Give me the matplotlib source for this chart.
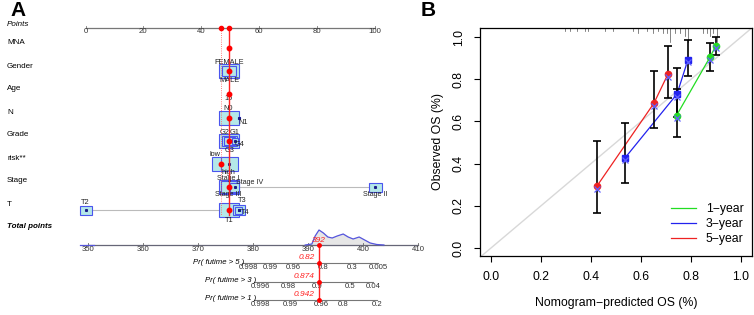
import matplotlib
matplotlib.use("Agg")
import matplotlib.pyplot as plt
from matplotlib.patches import Rectangle
import numpy as np

plt.rcParams['font.family'] = ['Liberation Sans', 'DejaVu Sans']

# ---------------- Panel A data (nomogram) ----------------
points_ticks = [0, 20, 40, 60, 80, 100]
var_names = ['MNA', 'Gender', 'Age', 'N', 'Grade', 'risk**', 'Stage', 'T']

gender_levels = ['FEMALE', 'MALE']
gender_pts = [49.6, 49.6]
age_levels = ['15']
age_pts = [49.6]
n_levels = ['N0', 'N1']
n_pts = [49.6, 52.9]
grade_levels = ['G1', 'G2', 'G3', 'G4']
grade_pts = [49.6, 49.6, 49.6, 51.8]
risk_levels = ['low', 'high']
risk_pts = [46.8, 49.6]
stage_levels = ['Stage I', 'Stage II', 'Stage III', 'Stage IV']
stage_pts = [49.6, 100.0, 49.6, 51.6]
t_levels = ['T1', 'T2', 'T3', 'T4']
t_pts = [49.6, 0.0, 53.0, 53.0]

patient_pts = [49.6, 49.6, 49.6, 49.6, 49.6, 46.8, 49.6, 49.6]
patient_total = 392
total_ticks = [350, 360, 370, 380, 390, 400, 410]

density_tp = [348.5, 351.0, 389.5, 390.7, 391.3, 392.0, 392.8, 393.6, 394.4, 395.3,
              396.4, 397.3, 398.2, 399.3, 400.3, 401.3, 402.5, 403.8]
density_h = [0, 0, 0, 1, 9, 15, 12, 8, 7, 9, 11, 8, 6, 8, 5, 2, 0.5, 0]

pr_titles = ['Pr( futime > 5 )', 'Pr( futime > 3 )', 'Pr( futime > 1 )']
pr_tick_labels = [['0.998', '0.99', '0.96', '0.8', '0.3', '0.005'],
                  ['0.996', '0.98', '0.9', '0.5', '0.04'],
                  ['0.998', '0.99', '0.96', '0.8', '0.2']]
pr_tick_tp = [[379.1, 383.1, 387.3, 392.7, 398.0, 402.7],
              [381.3, 386.4, 391.6, 397.6, 401.8],
              [381.3, 386.7, 392.4, 396.4, 402.5]]
pr_values = ['0.82', '0.874', '0.942']

# ---------------- Panel B data (calibration) ----------------
cal_labels = ['1\u2212year', '3\u2212year', '5\u2212year']
cal_colors = ['#22dd22', '#2222ee', '#ee2222']
pred_1y = [0.742, 0.876, 0.900]
obs_1y = [0.628, 0.905, 0.960]
lo_1y = [0.525, 0.840, 0.915]
hi_1y = [0.755, 0.972, 1.000]
pred_3y = [0.536, 0.744, 0.788]
obs_3y = [0.427, 0.730, 0.893]
lo_3y = [0.308, 0.620, 0.815]
hi_3y = [0.592, 0.853, 0.986]
pred_5y = [0.424, 0.652, 0.708]
obs_5y = [0.294, 0.687, 0.825]
lo_5y = [0.166, 0.569, 0.710]
hi_5y = [0.507, 0.839, 0.957]
rug_x = [0.296, 0.316, 0.343, 0.376, 0.389, 0.456, 0.489, 0.569, 0.589, 0.623,
         0.649, 0.669, 0.689, 0.703, 0.716, 0.736, 0.756, 0.776, 0.789, 0.849,
         0.863, 0.876, 0.889, 0.903]
rug_h = [1, 1, 1, 1, 1, 1, 1, 1, 2, 1, 2, 1, 2, 2, 5, 2, 2, 3, 5, 2, 2, 3, 2, 5]
axis_ticks = [0.0, 0.2, 0.4, 0.6, 0.8, 1.0]

# ---------------- figure ----------------
fig = plt.figure(figsize=(7.54, 3.15), dpi=100)
axA = fig.add_axes([0, 0, 1, 1])
axA.set_xlim(0, 754)
axA.set_ylim(315, 0)
axA.axis('off')

def px_pts(p):
    return 85.5 + 2.895 * p

def px_tp(tp):
    return 88 + 5.5 * (tp - 350)

FS = 5.8
TFS = 5.6
box_face = '#b4e8e8'
box_edge = '#4a55ee'

fig.text(10 / 754, 1 - 10 / 315, 'A', fontsize=15, fontweight='bold', va='center', ha='left')
fig.text(421 / 754, 1 - 10 / 315, 'B', fontsize=15, fontweight='bold', va='center', ha='left')

# Row labels
row_y = [43, 66, 89, 112, 135, 158, 181, 204]
axA.text(7, 24, 'Points', fontsize=FS, style='italic', va='center', ha='left')
for name, y in zip(var_names, row_y):
    axA.text(7, y, name, fontsize=FS, va='center', ha='left')
axA.text(7, 227, 'Total points', fontsize=FS, style='italic', fontweight='bold', va='center', ha='left')

# Points axis
axA.plot([px_pts(points_ticks[0]), px_pts(points_ticks[-1])], [27.5, 27.5], color='#777777', lw=0.9)
for t in points_ticks:
    axA.plot([px_pts(t)] * 2, [27.5, 25.5], color='#777777', lw=0.6)
    axA.text(px_pts(t), 31.5, str(t), fontsize=TFS, ha='center', va='center', color='#333333')

# red guide lines
axA.plot([px_pts(patient_pts[0])] * 2, [27.5, 215], color='#ff2222', lw=1.0, zorder=5)
axA.plot([px_pts(risk_pts[0])] * 2, [27.5, 215], color='#ff5555', lw=0.6, ls=':', zorder=5)
axA.plot([px_pts(patient_pts[0]), px_pts(risk_pts[0])], [27.5, 27.5], 'o', color='red', ms=3, zorder=6)

def draw_boxes(pts, levels, y, sizes, offs, line=False, fs=FS - 0.5):
    if line:
        axA.plot([px_pts(min(pts)), px_pts(max(pts))], [y, y], color='#bbbbbb', lw=0.8, zorder=1)
    for p, lev, (w, h), (dx, dy) in zip(pts, levels, sizes, offs):
        if w > 0:
            axA.add_patch(Rectangle((px_pts(p) - w / 2, y - h / 2), w, h, facecolor=box_face,
                                    edgecolor=box_edge, lw=0.8, zorder=2))
            axA.plot(px_pts(p), y, 's', color='#1a1a88', ms=1.2, zorder=3)
        axA.text(px_pts(p) + dx, y + dy, lev, fontsize=fs, ha='center', va='center',
                 color='#222222', zorder=4)

draw_boxes(gender_pts, gender_levels, 71, [(20, 14), (14, 10)], [(0, -8.5), (0, 10)])
draw_boxes(age_pts, age_levels, 94, [(0, 0)], [(-1, 5)])
draw_boxes(n_pts, n_levels, 118, [(20, 14), (2, 2)], [(-1, -10), (4, 4)])
draw_boxes(grade_pts, grade_levels, 141, [(20, 14), (15, 10), (11, 8), (6, 6)],
           [(5, -8.5), (-5, -9), (0, 10), (4, 4)])
draw_boxes(risk_pts, risk_levels, 164, [(18, 14), (17, 14)], [(-6, -9), (-1, 9)])
draw_boxes(stage_pts, stage_levels, 187, [(20, 14), (13, 9), (16, 12), (9, 9)],
           [(-1, -8.5), (0, 8), (-1, 8), (15, -5)], line=True, fs=FS - 0.7)
draw_boxes(t_pts, t_levels, 210, [(20, 14), (12, 9), (12, 10), (7, 7)],
           [(0, 11), (0, -8), (3, -9), (6, 3)], line=True)

# patient dots on rows
dot_y = [48, 71, 94, 118, 141, 164, 187, 210]
for p, y in zip(patient_pts, dot_y):
    axA.plot(px_pts(p), y, 'o', color='red', ms=3.2, zorder=6)

# Total points axis
axA.plot([px_tp(total_ticks[0]), px_tp(total_ticks[-1])], [245, 245], color='#666677', lw=0.9)
for t in total_ticks:
    axA.plot([px_tp(t)] * 2, [245, 243], color='#666666', lw=0.6)
    axA.text(px_tp(t), 249.5, str(t), fontsize=TFS, ha='center', va='center', color='#333333')
dx_ = [px_tp(v) for v in density_tp]
dy_ = [245 - h for h in density_h]
axA.fill_between(dx_[2:], dy_[2:], 245, color='#e6e6e6', zorder=1)
axA.plot(dx_[:2], dy_[:2], color='#5555dd', lw=0.9)
axA.plot(dx_[2:], dy_[2:], color='#5555dd', lw=0.9)

# probability axes
pr_y = [263, 281.5, 300]
xr = px_tp(patient_total)
for title, labs, tps, val, y in zip(pr_titles, pr_tick_labels, pr_tick_tp, pr_values, pr_y):
    axA.plot([px_tp(tps[0]) - 6, px_tp(tps[-1])], [y, y], color='#777777', lw=0.8)
    for lab, tp in zip(labs, tps):
        axA.text(px_tp(tp), y + 4.5, lab, fontsize=TFS, ha='center', va='center', color='#333333')
    axA.text(px_tp(tps[0]) - 4, y - 1, title, fontsize=FS - 0.2, style='italic', ha='right', va='center')
    axA.text(xr - 4, y - 5.5, val, fontsize=FS + 0.2, style='italic', color='#ff2222', ha='right', va='center')
    axA.plot(xr, y, 'o', color='red', ms=2.5, zorder=6)
axA.plot([xr, xr], [245, pr_y[-1]], color='#ff2222', lw=1.0, zorder=5)
axA.plot(xr, 245, 'o', color='red', ms=2.5, zorder=6)
axA.text(xr, 241, str(patient_total), fontsize=FS + 0.2, style='italic', color='#ff2222',
         ha='center', va='center', zorder=6)

# ---------------- Panel B ----------------
axB = fig.add_axes([480 / 754, 1 - 256 / 315, 272 / 754, 228 / 315])
axB.set_xlim(-0.044, 1.044)
axB.set_ylim(-0.038, 1.043)
axB.plot([-0.1, 1.1], [-0.1, 1.1], color='#d8d8d8', lw=1.0, zorder=1)

for pred, obs, lo, hi, col, lab, mk in [
        (pred_1y, obs_1y, lo_1y, hi_1y, cal_colors[0], cal_labels[0], 'o'),
        (pred_3y, obs_3y, lo_3y, hi_3y, cal_colors[1], cal_labels[1], 's'),
        (pred_5y, obs_5y, lo_5y, hi_5y, cal_colors[2], cal_labels[2], 'o')]:
    axB.errorbar(pred, obs, yerr=[np.array(obs) - np.array(lo), np.array(hi) - np.array(obs)],
                 fmt='none', ecolor='black', elinewidth=1.2, capsize=3, capthick=1.2, zorder=3)
    axB.plot(pred, obs, color=col, lw=0.9, label=lab, zorder=2)
    axB.plot(pred, obs, mk, color=col, ms=4.5, zorder=4)
    axB.plot(pred, np.array(obs) - 0.012, 'x', color='#6060ff', ms=4.5, mew=0.9, zorder=5)

trans = matplotlib.transforms.blended_transform_factory(axB.transData, axB.transAxes)
for x, h in zip(rug_x, rug_h):
    axB.plot([x, x], [1, 1 - 0.012 * h], color='#555555', lw=0.5, transform=trans)

axB.set_xticks(axis_ticks)
axB.set_yticks(axis_ticks)
axB.set_xticklabels(['%.1f' % t for t in axis_ticks], fontsize=8.8)
axB.set_yticklabels(['%.1f' % t for t in axis_ticks], fontsize=8.8, rotation=90, va='center')
axB.tick_params(direction='out', length=4, width=0.8, pad=7)
for s in axB.spines.values():
    s.set_linewidth(0.9)
axB.set_xlabel('Nomogram\u2212predicted OS (%)', fontsize=8.8, labelpad=10)
axB.set_ylabel('Observed OS (%)', fontsize=8.8, labelpad=6)
axB.legend(loc='lower right', bbox_to_anchor=(1.0, 0.01), frameon=False, fontsize=8.8,
           handlelength=2.0, labelspacing=0.25, handletextpad=0.8, borderaxespad=0.3)

fig.savefig('out.png', dpi=100)
